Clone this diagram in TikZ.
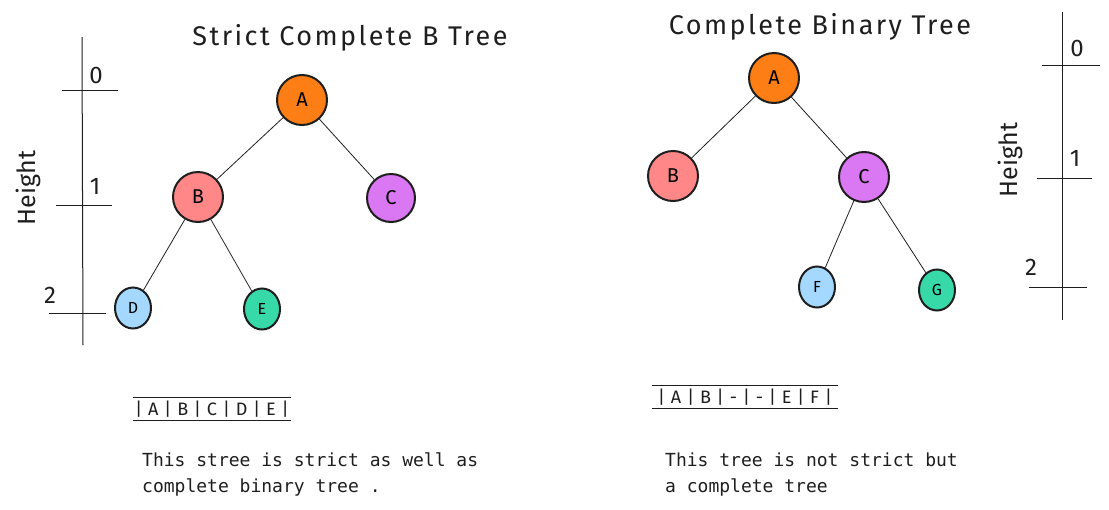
\documentclass[tikz,border=0pt]{standalone}
\usepackage{fontspec}
\setmainfont{Fira Sans}
\newfontfamily\monofont{DejaVu Sans Mono}
\newfontfamily\handfont[LetterSpace=9]{Fira Sans}
\newfontfamily\arrfont[LetterSpace=32]{Fira Sans}
\usetikzlibrary{shapes.geometric, math}
\definecolor{qorange}{HTML}{FD7E14}
\definecolor{qpink}{HTML}{FF8787}
\definecolor{qviolet}{HTML}{DA77F2}
\definecolor{qsky}{HTML}{A5D8FF}
\definecolor{qmint}{HTML}{38D9A9}
\definecolor{qink}{HTML}{1E1E1E}

\begin{document}
\begin{tikzpicture}[x=1pt,y=-1pt,
  bignode/.style={circle, draw=qink, line width=2pt, minimum size=50pt, inner sep=0pt, font=\fontsize{20}{20}\selectfont},
  smallnode/.style={ellipse, draw=qink, line width=2pt, minimum width=36pt, minimum height=41pt, inner sep=0pt, font=\fontsize{16}{16}\selectfont},
  edge/.style={line width=0.8pt, qink},
  axis/.style={line width=1pt, qink},
  digit/.style={font=\fontsize{24}{24}\selectfont, text=qink},
  title/.style={font=\handfont\fontsize{27}{27}\selectfont, text=qink},
  heightlabel/.style={font=\fontsize{25}{25}\selectfont, text=qink, rotate=90},
  arr/.style={font=\arrfont\fontsize{18}{18}\selectfont, inner sep=0pt, minimum height=22pt, text=qink},
  body/.style={font=\monofont\fontsize{18}{26}\selectfont, align=left, anchor=west, inner sep=0pt, text=qink}]

\useasboundingbox (0,0) rectangle (1109,509);

\tikzmath{
\xl = 82; %left axis
\xr = 1062; %right axis
}

%left axis:
\draw[axis] (\xl,37) -- (\xl+1,345);
\draw[axis] (62,90) -- (118,90);
\draw[axis] (56,205) -- (112,205);
\draw[axis] (49,313) -- (106,313);
\node[digit] (l0) at (96,75) {0};
\node[digit] (l1) at (95,186) {1};
\node[digit] (l2) at (50,295) {2};
\node[heightlabel] (lh) at (28,188) {Height};

%left tree:
\node[title] (ltitle) at (350,38) {Strict Complete B Tree};
\node[bignode, fill=qorange] (la) at (302,100) {A};
\node[bignode, fill=qpink] (lb) at (198,197) {B};
\node[bignode, fill=qviolet, minimum size=48pt] (lc) at (391,198) {C};
\node[smallnode, fill=qsky] (ld) at (133,308) {D};
\node[smallnode, fill=qmint] (le) at (262,309) {E};
\draw[edge] (la) -- (lb);
\draw[edge] (la) -- (lc);
\draw[edge] (lb) -- (ld);
\draw[edge] (lb) -- (le);

\node[arr] (larr) at (212,409) {|A|B|C|D|E|};
\draw[axis] ([xshift=-2pt]larr.north west) -- ([xshift=2pt]larr.north east);
\draw[axis] ([xshift=-2pt]larr.south west) -- ([xshift=2pt]larr.south east);
\node[body] (ltext) at (142,474) {This stree is strict as well as\\complete binary tree .};

%right tree:
\node[title] (rtitle) at (820,27) {Complete Binary Tree};
\node[bignode, fill=qorange] (ra) at (774,78) {A};
\node[bignode, fill=qpink] (rb) at (673,176) {B};
\node[bignode, fill=qviolet] (rc) at (864,177) {C};
\node[smallnode, fill=qsky] (rf) at (817,287) {F};
\node[smallnode, fill=qmint] (rg) at (937,290) {G};
\draw[edge] (ra) -- (rb);
\draw[edge] (ra) -- (rc);
\draw[edge] (rc) -- (rf);
\draw[edge] (rc) -- (rg);

\node[arr] (rarr) at (745,397) {|A|B|-|-|E|F|};
\draw[axis] ([xshift=-6pt]rarr.north west) -- ([xshift=6pt]rarr.north east);
\draw[axis] ([xshift=-6pt]rarr.south west) -- ([xshift=6pt]rarr.south east);
\node[body] (rtext) at (665,475) {This tree is not strict but\\a complete tree};

%right axis:
\draw[axis] (\xr,12) -- (\xr,320);
\draw[axis] (1042,65) -- (1100,65);
\draw[axis] (1037,178) -- (1092,178);
\draw[axis] (1029,287) -- (1087,287);
\node[digit] (r0) at (1077,48) {0};
\node[digit] (r1) at (1075,158) {1};
\node[digit] (r2) at (1031,267) {2};
\node[heightlabel] (rh) at (1010,160) {Height};

\end{tikzpicture}
\end{document}
